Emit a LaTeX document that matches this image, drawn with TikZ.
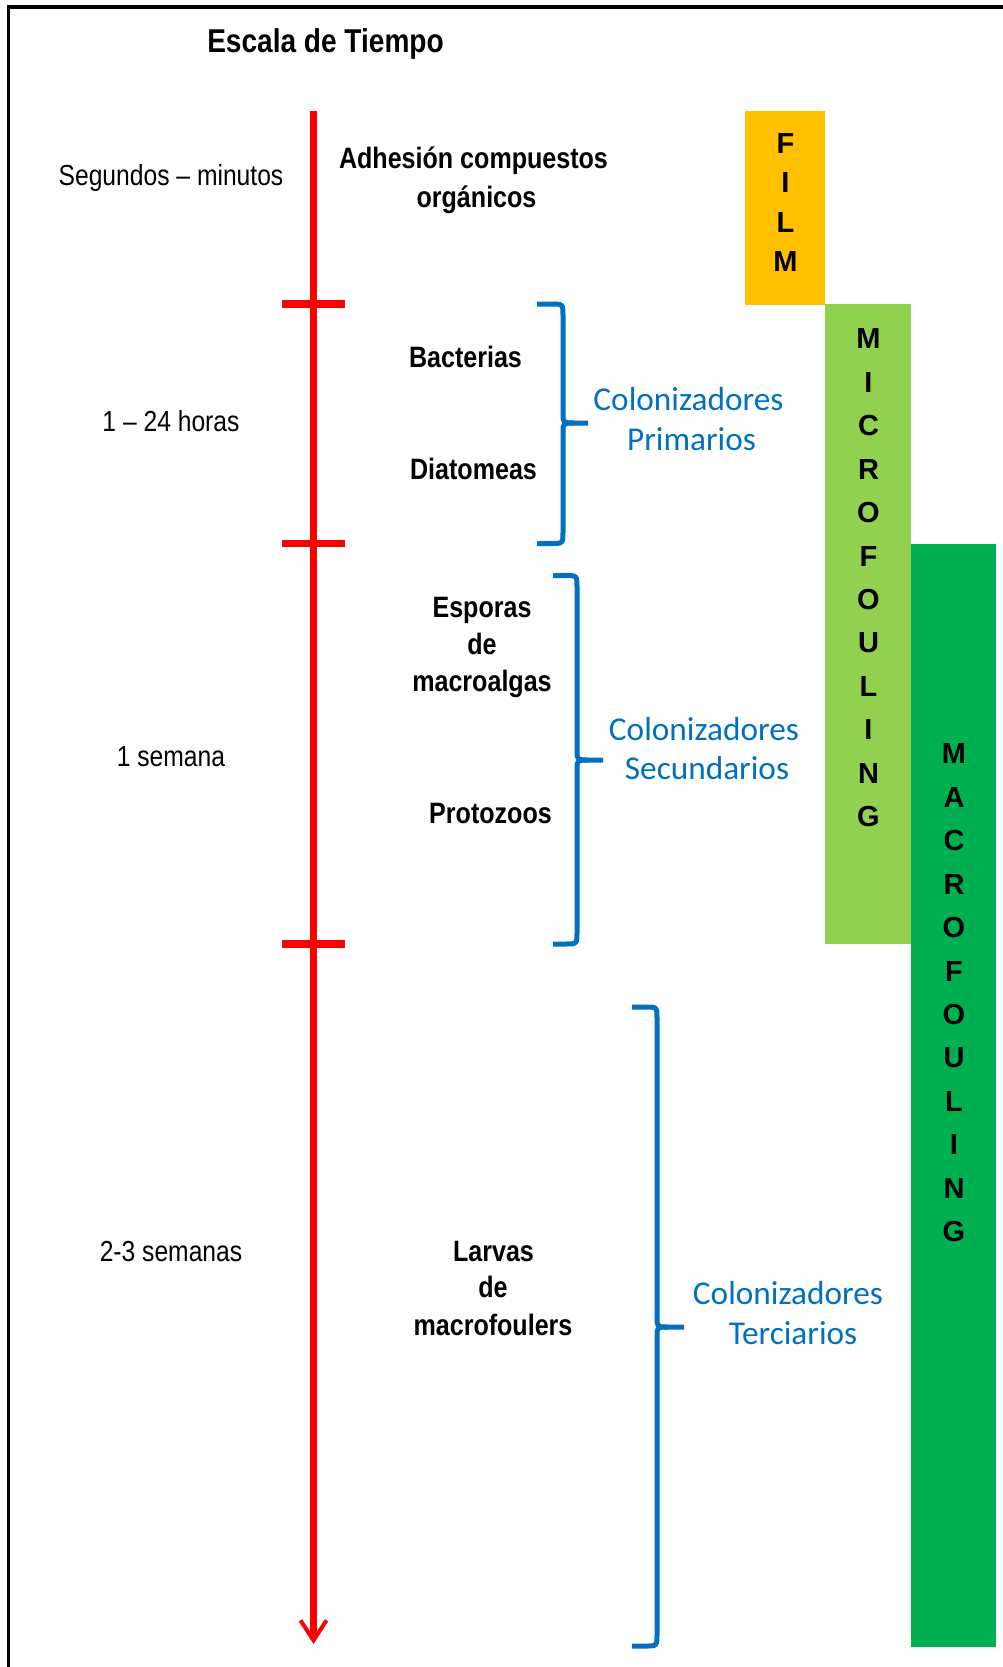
\documentclass[tikz,border=0pt]{standalone}
\usepackage{fontspec}
\setmainfont{Liberation Sans}
\newfontfamily\condfont{Liberation Sans}[FakeStretch=0.85]
\newfontfamily\calib{Carlito}
\usetikzlibrary{arrows.meta}
\definecolor{colblue}{HTML}{0070C0}
\definecolor{filmc}{HTML}{FFC000}
\definecolor{microc}{HTML}{92D050}
\definecolor{macroc}{HTML}{00B050}
\definecolor{axisred}{HTML}{FF0000}
\begin{document}
\begin{tikzpicture}[x=1pt,y=-1pt,
  titlelbl/.style={font=\condfont\bfseries\fontsize{33}{38}\selectfont, anchor=base, inner sep=0},
  timelbl/.style={font=\condfont\fontsize{29}{35}\selectfont, anchor=base, inner sep=0},
  orglbl/.style={font=\condfont\bfseries\fontsize{29.5}{36}\selectfont, anchor=base, inner sep=0},
  collbl/.style={font=\calib\fontsize{33.3}{40}\selectfont, text=colblue, anchor=base, inner sep=0},
  letterstack/.style={font=\bfseries\fontsize{29}{#1}\selectfont, align=center, anchor=north, inner sep=0},
  bandbox/.style={fill=#1, anchor=north west, inner sep=0, draw=none},
  bracestroke/.style={draw=colblue, line width=5pt},
  axisline/.style={draw=axisred, line width=6.5pt},
  tickmark/.style={draw=axisred, line width=7.5pt},
  framestroke/.style={draw=black, line width=3.5pt}
]
\useasboundingbox (0,0) rectangle (1003,1667);

% frame
\coordinate (frbl) at (8.5,1667);
\coordinate (frtl) at (8.5,7);
\coordinate (frtr) at (1003,7);
\draw[framestroke] (frbl) -- (frtl) -- (frtr);

% colour bands
\node[bandbox=filmc, minimum width=80, minimum height=193.3] (film) at (745,111) {};
\node[bandbox=microc, minimum width=86, minimum height=640] (micro) at (825,304) {};
\node[bandbox=macroc, minimum width=85, minimum height=1103] (macro) at (911,544) {};
\node[letterstack=39.3] (filmtxt) at (785.5,133.3) {F\\I\\L\\M};
\node[letterstack=43.45] (microtxt) at (868.5,328.6) {M\\I\\C\\R\\O\\F\\O\\U\\L\\I\\N\\G};
\node[letterstack=43.45] (macrotxt) at (954,743.6) {M\\A\\C\\R\\O\\F\\O\\U\\L\\I\\N\\G};

% title
\node[titlelbl] (title) at (325.5,52.5) {Escala de Tiempo};

% time axis
\coordinate (axtop) at (313.5,111);
\coordinate (axend) at (313.5,1644);
\draw[axisline, -{Straight Barb[length=20pt,width=26pt,line width=4pt]}] (axtop) -- (axend);
\coordinate (t1l) at (282,304);   \coordinate (t1r) at (345,304);
\coordinate (t2l) at (282,543.5); \coordinate (t2r) at (345,543.5);
\coordinate (t3l) at (282,944);   \coordinate (t3r) at (345,944);
\draw[tickmark] (t1l) -- (t1r);
\draw[tickmark] (t2l) -- (t2r);
\draw[tickmark] (t3l) -- (t3r);

% time labels
\node[timelbl] (tsec) at (171,185) {Segundos – minutos};
\node[timelbl] (thor) at (171,431) {1 – 24 horas};
\node[timelbl] (tsem) at (171,766) {1 semana};
\node[timelbl] (tsems) at (171,1261) {2-3 semanas};

% organism labels
\node[orglbl] (adh1) at (473.5,168) {Adhesión compuestos};
\node[orglbl] (adh2) at (476.5,207) {orgánicos};
\node[orglbl] (bact) at (465.5,367) {Bacterias};
\node[orglbl] (diat) at (473.5,479) {Diatomeas};
\node[orglbl] (esp1) at (482,617) {Esporas};
\node[orglbl] (esp2) at (482,654) {de};
\node[orglbl] (esp3) at (482,691) {macroalgas};
\node[orglbl] (prot) at (490.5,823) {Protozoos};
\node[orglbl] (lar1) at (493.5,1261) {Larvas};
\node[orglbl] (lar2) at (493,1297.5) {de};
\node[orglbl] (lar3) at (493,1335) {macrofoulers};

% braces
\draw[bracestroke] (537,304) -- (551,304) .. controls (563,304) .. (563,316) -- (563,413) .. controls (563,423) .. (574,423) -- (588,423);
\draw[bracestroke] (537,543.5) -- (551,543.5) .. controls (563,543.5) .. (563,531.5) -- (563,433) .. controls (563,423) .. (574,423);
\draw[bracestroke] (553,575.5) -- (565,575.5) .. controls (577,575.5) .. (577,587.5) -- (577,750) .. controls (577,760) .. (588,760) -- (603,760);
\draw[bracestroke] (553,944) -- (565,944) .. controls (577,944) .. (577,932) -- (577,770) .. controls (577,760) .. (588,760);
\draw[bracestroke] (632,1007) -- (645,1007) .. controls (657,1007) .. (657,1019) -- (657,1317) .. controls (657,1327) .. (668,1327) -- (684,1327);
\draw[bracestroke] (632,1646) -- (645,1646) .. controls (657,1646) .. (657,1634) -- (657,1337) .. controls (657,1327) .. (668,1327);

% colonizer labels
\node[collbl] (prim1) at (688.5,410) {Colonizadores};
\node[collbl] (prim2) at (691.5,450) {Primarios};
\node[collbl] (sec1) at (704,740) {Colonizadores};
\node[collbl] (sec2) at (707,779) {Secundarios};
\node[collbl] (ter1) at (788,1304) {Colonizadores};
\node[collbl] (ter2) at (793,1344) {Terciarios};
\end{tikzpicture}
\end{document}
